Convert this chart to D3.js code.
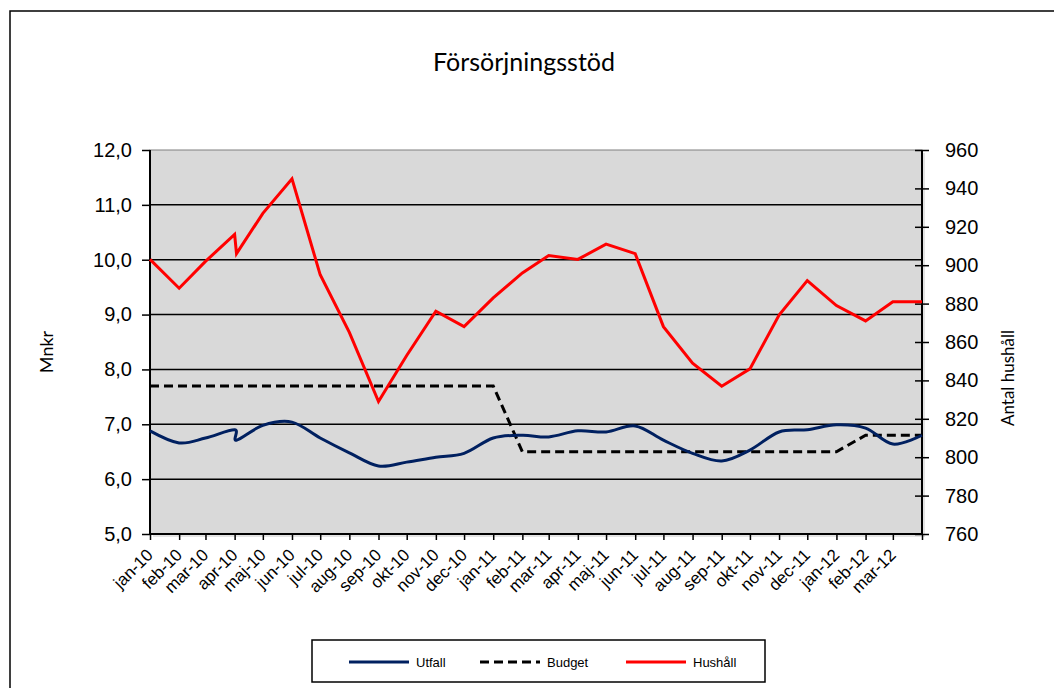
<!DOCTYPE html>
<html><head><meta charset="utf-8">
<script src="https://cdn.jsdelivr.net/npm/d3@7"></script>
<style>body{margin:0;background:#fff}svg{display:block}</style>
</head><body>
<svg id="c" width="1054" height="688"></svg>
<script>
const dates = ["2010-01-01","2010-02-01","2010-03-01","2010-04-01","2010-04-03","2010-05-01","2010-06-01","2010-07-01","2010-08-01","2010-09-01","2010-10-01","2010-11-01","2010-12-01",
"2011-01-01","2011-02-01","2011-03-01","2011-04-01","2011-05-01","2011-06-01","2011-07-01","2011-08-01","2011-09-01","2011-10-01","2011-11-01","2011-12-01",
"2012-01-01","2012-02-01","2012-03-01","2012-04-01"];
const utfall = [6.88,6.66,6.75,6.90,6.71,6.98,7.04,6.75,6.48,6.24,6.31,6.40,6.47,6.75,6.80,6.77,6.88,6.86,6.97,6.71,6.47,6.33,6.53,6.86,6.90,6.99,6.93,6.64,6.80];
const budget = [7.7,7.7,7.7,7.7,7.7,7.7,7.7,7.7,7.7,7.7,7.7,7.7,7.7,7.7,6.5,6.5,6.5,6.5,6.5,6.5,6.5,6.5,6.5,6.5,6.5,6.5,6.8,6.8,6.8];
const hushall = [903,888,902,916,906,927,945,895,865,829,853,876,868,883,896,905,903,911,906,868,849,837,846,874,892,879,871,881,881];
const monthNames = ["jan","feb","mar","apr","maj","jun","jul","aug","sep","okt","nov","dec"];
const leftTicks = [5,6,7,8,9,10,11,12];
const rightTicks = [760,780,800,820,840,860,880,900,920,940,960];
const seriesNames = ["Utfall","Budget","Hushåll"];

const svg = d3.select("#c");
const L = 150, R = 922, T = 150, B = 534;
const parse = d3.utcParse("%Y-%m-%d");
const dd = dates.map(parse);
const x = d3.scaleUtc().domain([parse("2010-01-01"), parse("2012-04-01")]).range([L, R]);
const yL = d3.scaleLinear().domain([5, 12]).range([B, T]);
const yR = d3.scaleLinear().domain([760, 960]).range([B, T]);
const arial = "'Liberation Sans', Arial, sans-serif";
const gill = "Lato, 'Open Sans', sans-serif";

// outer border
svg.append("rect").attr("x", 10).attr("y", 11).attr("width", 1100).attr("height", 700)
  .attr("fill", "none").attr("stroke", "#000").attr("stroke-width", 1.5);

// title
svg.append("text").attr("x", 524).attr("y", 71).attr("text-anchor", "middle")
  .attr("font-family", gill).attr("font-size", 25).text("Försörjningsstöd");

// plot area
svg.append("rect").attr("x", L + 3).attr("y", T + 3).attr("width", R - L).attr("height", B - T).attr("fill", "#c8c8c8").attr("opacity", 0.5);
svg.append("rect").attr("x", L).attr("y", T).attr("width", R - L).attr("height", B - T)
  .attr("fill", "#d9d9d9").attr("stroke", "#808080").attr("stroke-width", 1);

// gridlines
svg.append("g").selectAll("line").data(leftTicks.filter(v => v > 5 && v < 12)).join("line")
  .attr("x1", L).attr("x2", R).attr("y1", d => yL(d)).attr("y2", d => yL(d))
  .attr("stroke", "#000").attr("stroke-width", 1.5);

// left axis
const gl = svg.append("g").attr("transform", `translate(${L},0)`)
  .call(d3.axisLeft(yL).tickValues(leftTicks).tickSize(8).tickPadding(10).tickFormat(d => d3.format(".1f")(d).replace(".", ",")));
gl.select(".domain").remove();
gl.selectAll(".tick line").attr("stroke", "#000").attr("stroke-width", 1.5);
gl.selectAll("text").attr("font-family", arial).attr("font-size", 20).attr("fill", "#000");
svg.append("line").attr("x1", L).attr("x2", L).attr("y1", T).attr("y2", B + 1).attr("stroke", "#000").attr("stroke-width", 2);

// right axis
const gr = svg.append("g").attr("transform", `translate(${R},0)`)
  .call(d3.axisRight(yR).tickValues(rightTicks).tickSize(7).tickPadding(16).tickFormat(d3.format("d")));
gr.select(".domain").remove();
gr.selectAll(".tick line").attr("x1", -7).attr("stroke", "#000").attr("stroke-width", 1.5);
gr.selectAll("text").attr("font-family", arial).attr("font-size", 20).attr("fill", "#000");
svg.append("line").attr("x1", R).attr("x2", R).attr("y1", T).attr("y2", B + 1).attr("stroke", "#000").attr("stroke-width", 2);

// bottom axis
const monthTicks = d3.utcMonth.range(parse("2010-01-01"), parse("2012-04-02"));
const fmt = d => monthNames[d.getUTCMonth()] + "-" + String(d.getUTCFullYear()).slice(2);
const gb = svg.append("g").attr("transform", `translate(0,${B})`)
  .call(d3.axisBottom(x).tickValues(monthTicks).tickSize(6).tickFormat(""));
gb.select(".domain").remove();
gb.selectAll(".tick line").attr("stroke", "#000").attr("stroke-width", 1.5);
svg.append("line").attr("x1", L).attr("x2", R).attr("y1", B).attr("y2", B).attr("stroke", "#000").attr("stroke-width", 2);
svg.append("g").selectAll("text").data(monthTicks.slice(0, -1)).join("text")
  .attr("transform", d => `translate(${x(d) + 4},${B + 22}) rotate(-45)`)
  .attr("text-anchor", "end").attr("font-family", arial).attr("font-size", 17).attr("fill", "#000")
  .text(fmt);

// axis titles
svg.append("text").attr("transform", "translate(53,352) rotate(-90)").attr("text-anchor", "middle")
  .attr("font-family", gill).attr("font-size", 18).text("Mnkr");
svg.append("text").attr("transform", "translate(1014,378) rotate(-90)").attr("text-anchor", "middle")
  .attr("font-family", gill).attr("font-size", 17).text("Antal hushåll");

// series
const lineU = d3.line().x((d, i) => x(dd[i])).y(d => yL(d)).curve(d3.curveCatmullRom.alpha(0));
const lineB = d3.line().x((d, i) => x(dd[i])).y(d => yL(d));
const lineH = d3.line().x((d, i) => x(dd[i])).y(d => yR(d));
svg.append("path").datum(budget).attr("d", lineB).attr("fill", "none").attr("stroke", "#000")
  .attr("stroke-width", 3).attr("stroke-dasharray", "9,5");
svg.append("path").datum(utfall).attr("d", lineU).attr("fill", "none").attr("stroke", "#002060")
  .attr("stroke-width", 3);
svg.append("path").datum(hushall).attr("d", lineH).attr("fill", "none").attr("stroke", "#ff0000")
  .attr("stroke-width", 3).attr("stroke-linejoin", "miter");

// legend
svg.append("rect").attr("x", 312).attr("y", 640).attr("width", 453).attr("height", 42)
  .attr("fill", "#fff").attr("stroke", "#000").attr("stroke-width", 1.5);
const leg = [
  {name: seriesNames[0], x: 349, color: "#002060", dash: null},
  {name: seriesNames[1], x: 480, color: "#000", dash: "9,5"},
  {name: seriesNames[2], x: 626, color: "#ff0000", dash: null}
];
const lg = svg.append("g").selectAll("g").data(leg).join("g");
lg.append("line").attr("x1", d => d.x).attr("x2", d => d.x + 60).attr("y1", 662).attr("y2", 662)
  .attr("stroke", d => d.color).attr("stroke-width", 3).attr("stroke-dasharray", d => d.dash);
lg.append("text").attr("x", d => d.x + 67).attr("y", 667).attr("font-family", arial).attr("font-size", 13)
  .text(d => d.name);
</script>
</body></html>
